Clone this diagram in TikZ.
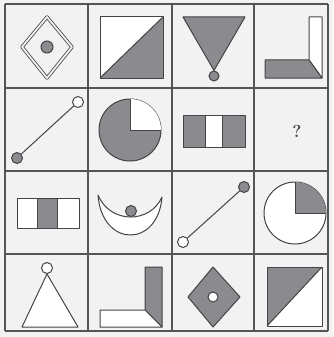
\documentclass[tikz,border=0pt]{standalone}
\usepackage{tikz}
\usetikzlibrary{shapes.geometric}
\definecolor{Paper}{HTML}{F2F2F2}
\definecolor{Ink}{HTML}{444444}
\definecolor{Rule}{HTML}{555555}
\definecolor{Shade}{HTML}{8A8A8F}

\begin{document}
\begin{tikzpicture}[
  x=1pt,y=-1pt,
  grid/.style={Rule,line width=1.6pt},
  line/.style={draw=Ink,line width=1pt,line join=round},
  dot/.style={circle,draw=Ink,fill=Shade,line width=1pt,inner sep=0pt,minimum size=11pt},
  ring/.style={circle,draw=Ink,fill=white,line width=1pt,inner sep=0pt,minimum size=11pt},
  wire/.style={Ink,line width=1pt}
]
  \fill[Paper] (0,0) rectangle (333,337);
  \useasboundingbox (0,0) rectangle (333,337);

  % Grid.
  \foreach \x in {5,88,172,254,328}
    {\draw[grid] (\x,4) -- (\x,331);}
  \foreach \y in {4,88,171,254,331}
    {\draw[grid] (5,\y) -- (328,\y);}

  % Row 1.
  \draw[line,line width=0.8pt,double=Paper,double distance=1.8pt] (47,17) -- (72,47) -- (47,78) -- (22,47) -- cycle;
  \node[dot,minimum size=12pt] (d11) at (47,47) {};

  \fill[white] (100,17) rectangle (163,78);
  \fill[Shade] (100,78) -- (163,17) -- (163,78) -- cycle;
  \draw[line] (100,17) rectangle (163,78);
  \draw[line] (100,78) -- (163,17);

  \node[dot,minimum size=10pt] (d13) at (214,76) {};
  \filldraw[line,fill=Shade] (183,17) -- (245,17) -- (d13.north) -- cycle;

  \filldraw[line,fill=white] (309,17) -- (322,17) -- (322,78) -- (309,60) -- cycle;
  \filldraw[line,fill=Shade] (265,60) -- (309,60) -- (322,78) -- (265,78) -- cycle;

  % Row 2.
  \node[dot] (d21) at (17,158) {};
  \node[ring] (r21) at (78,102) {};
  \draw[wire] (d21) -- (r21);

  \filldraw[line,fill=Shade] (130,130) circle[radius=31pt];
  \fill[white] (130,130) -- ++(31pt,0) arc[start angle=0,end angle=90,radius=31pt] -- cycle;
  \draw[line] (161,130) -- (130,130) -- (130,99);

  \fill[Shade] (183,115) rectangle (245,147);
  \fill[white] (205,115) rectangle (222,147);
  \draw[line] (183,115) rectangle (245,147);
  \draw[line] (205,115) -- (205,147) (222,115) -- (222,147);

  \node[font=\LARGE\bfseries,text=Ink] (ask) at (297,131) {?};

  % Row 3.
  \fill[white] (17,198) rectangle (79,228);
  \fill[Shade] (37,198) rectangle (57,228);
  \draw[line] (17,198) rectangle (79,228);
  \draw[line] (37,198) -- (37,228) (57,198) -- (57,228);

  \filldraw[line,fill=white] (98,195) .. controls (102,248) and (158,248) .. (162,197)
    .. controls (150,224) and (110,224) .. cycle;
  \node[dot] (d32) at (131,211) {};

  \node[ring] (r33) at (183,242) {};
  \node[dot] (d33) at (244,187) {};
  \draw[wire] (r33) -- (d33);

  \filldraw[line,fill=white] (295,213) circle[radius=31pt];
  \fill[Shade] (295,213) -- ++(31pt,0) arc[start angle=0,end angle=90,radius=31pt] -- cycle;
  \draw[line] (326,213) -- (295,213) -- (295,182);

  % Row 4.
  \node[ring] (r41) at (47,268) {};
  \filldraw[line,fill=white] (r41.south) -- (78,327) -- (22,327) -- cycle;

  \filldraw[line,fill=Shade] (145,267) -- (162,267) -- (162,327) -- (145,310) -- cycle;
  \filldraw[line,fill=white] (100,310) -- (145,310) -- (162,327) -- (100,327) -- cycle;

  \filldraw[line,fill=Shade] (213,267) -- (240,297) -- (213,327) -- (188,297) -- cycle;
  \node[ring,minimum size=10pt] (r43) at (213,297) {};

  \fill[white] (267,267) rectangle (322,326);
  \fill[Shade] (267,267) -- (322,267) -- (267,326) -- cycle;
  \draw[line] (267,267) rectangle (322,326);
  \draw[line] (267,326) -- (322,267);
\end{tikzpicture}
\end{document}
